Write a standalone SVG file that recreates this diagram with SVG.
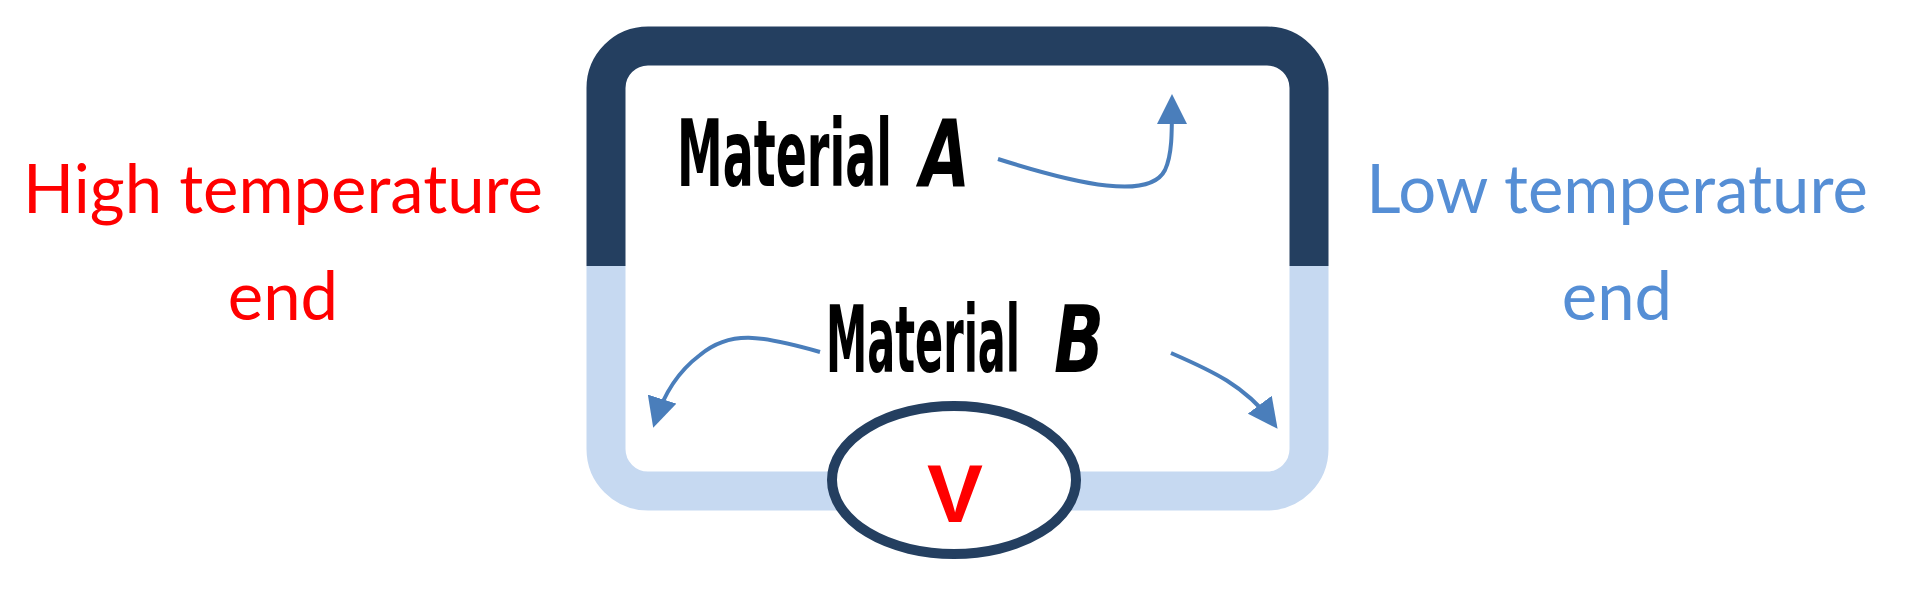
<svg xmlns="http://www.w3.org/2000/svg" width="1912" height="596" viewBox="0 0 1912 596">
<defs>
<style>
.lbl{font-family:Lato,"Open Sans",sans-serif;font-size:67px;text-anchor:middle}
.mat{font-family:"DejaVu Sans",sans-serif;font-weight:bold;font-stretch:condensed;font-size:92px;fill:#000}
.it{font-style:italic}
.arr{fill:none;stroke:#4A7EBB;stroke-width:4;marker-end:url(#ah)}
</style>
<marker id="ah" viewBox="0 0 10 10" refX="8" refY="5" markerWidth="7.5" markerHeight="7.5" orient="auto" markerUnits="strokeWidth"><path d="M0,0L10,5L0,10z" fill="#4A7EBB"/></marker>
</defs>
<rect width="1912" height="596" fill="#fff"/>
<g id="circuit">
<path d="M606,266 V88 A42,42 0 0 1 648,46 H1267 A42,42 0 0 1 1309,88 V266" fill="none" stroke="#243F60" stroke-width="39"/>
<path d="M606,266 V449 A42,42 0 0 0 648,491 H1267 A42,42 0 0 0 1309,449 V266" fill="none" stroke="#C6D9F1" stroke-width="39"/>
</g>
<g id="voltmeter">
<ellipse cx="954" cy="480" rx="122" ry="74" fill="#fff" stroke="#243F60" stroke-width="10"/>
<text x="955" y="522" font-family="'Liberation Sans',sans-serif" font-weight="bold" font-size="82" fill="#FF0000" text-anchor="middle" textLength="56" lengthAdjust="spacingAndGlyphs">V</text>
</g>
<g id="materialA">
<text class="mat" x="677" y="186" textLength="215" lengthAdjust="spacingAndGlyphs">Material</text>
<text class="mat it" x="920" y="186" textLength="50" lengthAdjust="spacingAndGlyphs">A</text>
</g>
<g id="materialB">
<text class="mat" x="826" y="372" textLength="194" lengthAdjust="spacingAndGlyphs">Material</text>
<text class="mat it" x="1054" y="372" textLength="50" lengthAdjust="spacingAndGlyphs">B</text>
</g>
<g id="hot">
<text class="lbl" fill="#FF0000"><tspan x="283" y="213">High temperature</tspan><tspan x="283" y="320">end</tspan></text>
</g>
<g id="cold">
<text class="lbl" fill="#558ED5"><tspan x="1617" y="213">Low temperature</tspan><tspan x="1617" y="320">end</tspan></text>
</g>
<g id="connectors">
<path class="arr" d="M998,159 C1080,185 1150,200 1165,170 C1172,155 1172,135 1172,100"/>
<path class="arr" d="M820,352 C760,335 730,330 700,355 C680,370 665,390 655,422"/>
<path class="arr" d="M1171,353 C1210,370 1245,385 1274,424"/>
</g>
</svg>
